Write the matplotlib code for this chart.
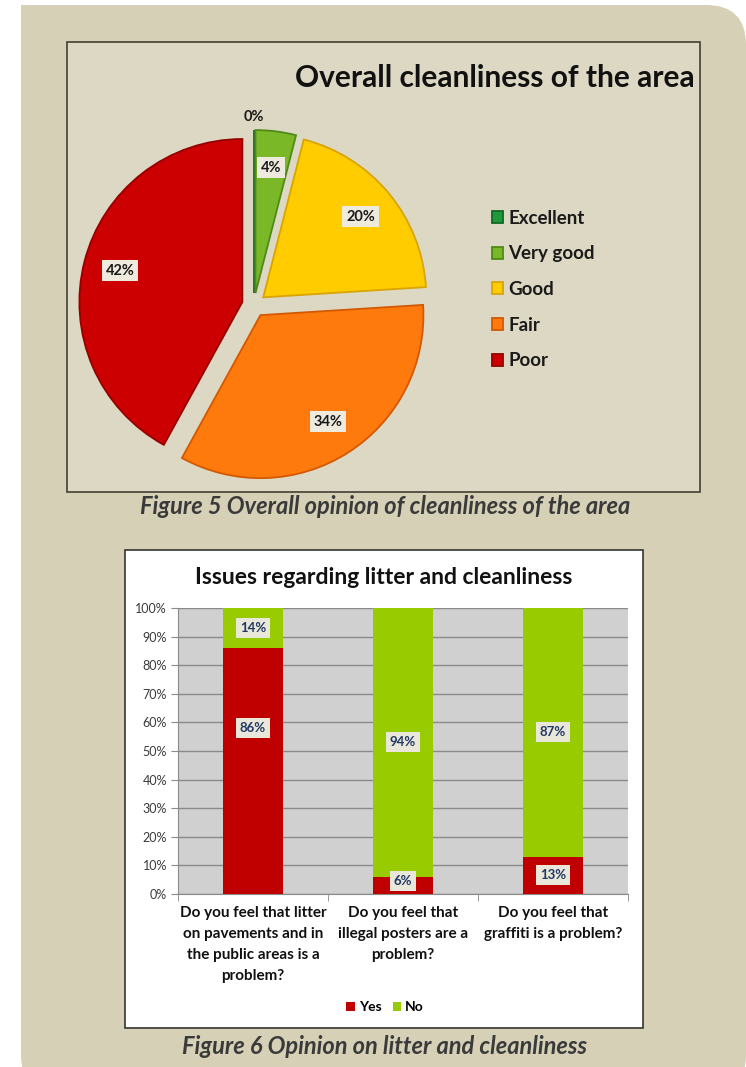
import numpy as np
import matplotlib
matplotlib.use("Agg")
import matplotlib.pyplot as plt
from matplotlib.patches import FancyBboxPatch, Rectangle

plt.rcParams['font.family'] = ['Lato', 'DejaVu Sans']

# pie: overall cleanliness
pie_labels = ['Excellent', 'Very good', 'Good', 'Fair', 'Poor']
pie_values = [0, 4, 20, 34, 42]
pie_colors = ['#1e9a3a', '#7ab828', '#ffcc00', '#ff7a0c', '#cc0000']
pie_edges = ['#0f6a24', '#4f8a16', '#d9a400', '#d45800', '#950000']

# stacked bars: litter issues
questions = ['Do you feel that litter\non pavements and in\nthe public areas is a\nproblem?',
             'Do you feel that\nillegal posters are a\nproblem?',
             'Do you feel that\ngraffiti is a problem?']
yes_pct = [86, 6, 13]
no_pct = [14, 94, 87]

W, H = 746, 1067
fig = plt.figure(figsize=(W / 100, H / 100), dpi=100)
fig.patch.set_facecolor('white')

# page background in pixel units (y down)
bg = fig.add_axes([0, 0, 1, 1])
bg.set_xlim(0, W)
bg.set_ylim(H, 0)
bg.axis('off')
bg.add_patch(FancyBboxPatch((21, 5), W - 21, 1090, boxstyle='round,pad=0,rounding_size=40',
                            fc='#d6d0b7', ec='none'))
bg.add_patch(Rectangle((21, 5), 60, 60, fc='#d6d0b7', ec='none'))
bg.add_patch(Rectangle((67, 42), 633, 450, fc='#ddd8c3', ec='#4e4a3c', lw=1.3))
bg.add_patch(Rectangle((125, 550), 518, 478, fc='white', ec='#333333', lw=1.2))

caption_kw = dict(fontsize=17, fontweight='bold', fontstyle='italic', color='#3a3a3a',
                  ha='center', va='center')
bg.text(385, 506, 'Figure 5 Overall opinion of cleanliness of the area', **caption_kw)
bg.text(385, 1046, 'Figure 6 Opinion on litter and cleanliness', **caption_kw)

# ---- pie chart ----
ax_pie = fig.add_axes([67 / W, 1 - 492 / H, 633 / W, 450 / H])

cx, cy, R = 254, H - 305, 163
gap = 12  # explode offset, in pixels
explode = [gap] * len(pie_values)
wedges, _ = ax_pie.pie(pie_values, colors=pie_colors, explode=explode, startangle=90,
                       counterclock=False, center=(cx, cy), radius=R,
                       wedgeprops=dict(lw=1.3))
for w, ec in zip(wedges, pie_edges):
    w.set_edgecolor(ec)
ax_pie.set_xlim(67, 700)
ax_pie.set_ylim(H - 492, H - 42)
ax_pie.axis('off')

# percentage labels
total = sum(pie_values)
for w, v in zip(wedges, pie_values):
    mid = np.deg2rad((w.theta1 + w.theta2) / 2)
    if v == 0:
        d = gap + 1.08 * R
        box = None
    else:
        d = gap + 0.775 * R
        box = dict(boxstyle='square,pad=0.25', fc='#eeebde', ec='none')
    ax_pie.text(cx + d * np.cos(mid), cy + d * np.sin(mid), f'{v / total * 100:.0f}%',
                ha='center', va='center', fontsize=10.5, fontweight='bold', color='#1a1a1a',
                bbox=box)

ax_pie.text(695, H - 78, 'Overall cleanliness of the area', ha='right', va='center',
            fontsize=21.5, fontweight='bold', color='#111111')

leg = ax_pie.legend(wedges, pie_labels, loc='upper left',
                    bbox_to_anchor=(484 / W, 1 - 202 / H), bbox_transform=fig.transFigure,
                    frameon=False, fontsize=13.5, handlelength=0.6, handleheight=0.6,
                    handletextpad=0.3, labelspacing=1.0, borderaxespad=0)
for t in leg.get_texts():
    t.set_fontweight('bold')
    t.set_color('#1a1a1a')

# ---- stacked bar chart ----
ax = fig.add_axes([178 / W, 1 - 894 / H, 450 / W, 286 / H])
x = np.arange(len(questions))
bar_w = 0.4
ax.bar(x, yes_pct, bar_w, color='#c00000', label='Yes', zorder=3)
ax.bar(x, no_pct, bar_w, bottom=yes_pct, color='#99cc00', label='No', zorder=3)

ax.set_xlim(-0.5, len(questions) - 0.5)
ax.set_ylim(0, 100)
ax.set_facecolor('#d0d0d0')
ax.set_yticks(range(0, 101, 10))
ax.set_yticklabels([f'{v}%' for v in range(0, 101, 10)], fontsize=9, color='#3a3a3a')
ax.yaxis.grid(True, color='#8a8a8a', lw=1.0, zorder=1)
ax.set_xticks(x)
ax.set_xticklabels(questions, fontsize=11, fontweight='bold', color='#111111',
                   linespacing=1.62)
ax.set_xticks(np.arange(-0.5, len(questions), 1), minor=True)
ax.tick_params(axis='x', which='major', length=0, pad=9)
ax.tick_params(axis='x', which='minor', length=5, color='#8a8a8a')
ax.tick_params(axis='y', length=5, color='#8a8a8a', pad=3)
for s in ['top', 'right']:
    ax.spines[s].set_visible(False)
for s in ['left', 'bottom']:
    ax.spines[s].set_color('#8a8a8a')

lab_kw = dict(ha='center', va='center', fontsize=9.5, fontweight='bold', color='#1f3864',
              bbox=dict(boxstyle='square,pad=0.3', fc='#e9e7d9', ec='none'), zorder=5)
yes_label_y = {0: 58}
for i, (y, n) in enumerate(zip(yes_pct, no_pct)):
    ax.text(i, yes_label_y.get(i, max(y / 2, 4.5)), f'{y}%', **lab_kw)
    ax.text(i, y + n / 2, f'{n}%', **lab_kw)

fig.text(384 / W, 1 - 577 / H, 'Issues regarding litter and cleanliness', ha='center',
         va='center', fontsize=16.5, fontweight='bold', color='#111111')

bleg = ax.legend(loc='center', bbox_to_anchor=(385 / W, 1 - 1007 / H),
                 bbox_transform=fig.transFigure, ncol=2, frameon=False, fontsize=10,
                 handlelength=0.6, handleheight=0.6, handletextpad=0.3, columnspacing=0.8)
for t in bleg.get_texts():
    t.set_fontweight('bold')

fig.savefig('out.png', dpi=100)
